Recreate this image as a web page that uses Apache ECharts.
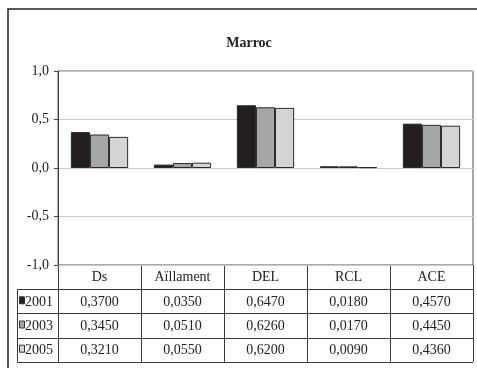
<!doctype html>
<html lang="ca">
    <head>
        <meta charset="UTF-8" />
        <title>Marroc</title>
        <script src="https://cdn.jsdelivr.net/npm/echarts@6.0.0/dist/echarts.min.js"></script>
        <style>
            body { margin: 0; background: #fff; }
        </style>
    </head>
    <body>
        <div id="main" style="width: 477px; height: 368px"></div>

        <script>
            // Data
            const categories = ["Ds", "Aïllament", "DEL", "RCL", "ACE"];
            const years = ["2001", "2003", "2005"];
            const values2001 = [0.37, 0.035, 0.647, 0.018, 0.457];
            const values2003 = [0.345, 0.051, 0.626, 0.017, 0.445];
            const values2005 = [0.321, 0.055, 0.62, 0.009, 0.436];
            const yTicks = [-1, -0.5, 0, 0.5, 1];

            const seriesValues = [values2001, values2003, values2005];
            const colors = ["#231f20", "#a6a6a8", "#d4d4d6"];
            const font = "'Liberation Serif', 'DejaVu Serif', serif";

            // Layout of plot + data table
            const gridLeft = 58;
            const gridRight = 473;
            const gridTop = 71;
            const tableTop = 265;
            const tableLeft = 17;
            const rowH = 24.2;
            const W = 477, H = 368;
            const cellW = (gridRight - gridLeft) / categories.length;
            const lineColor = "#3a3a3a";

            const fmt = (v) => v.toFixed(4).replace(".", ",");

            const graphics = [];
            // outer frame (cut off at right/bottom)
            graphics.push({
                type: "rect",
                shape: { x: 8, y: 9, width: 480, height: 380 },
                style: { fill: "none", stroke: "#222", lineWidth: 1.5 },
                silent: true,
            });
            const line = (x1, y1, x2, y2) =>
                graphics.push({
                    type: "line",
                    shape: { x1, y1, x2, y2 },
                    style: { stroke: lineColor, lineWidth: 1 },
                    silent: true,
                });
            const tableBottom = tableTop + rowH * 4;
            // horizontal table lines
            for (let r = 1; r <= 4; r++) {
                const y = Math.round(tableTop + rowH * r) + 0.5;
                line(tableLeft, y, gridRight, y);
            }
            // vertical table lines
            for (let c = 0; c <= categories.length; c++) {
                const x = Math.round(gridLeft + cellW * c) + 0.5;
                line(x, tableTop, x, tableBottom);
            }
            line(tableLeft + 0.5, tableTop + rowH, tableLeft + 0.5, tableBottom);

            // row labels with legend keys, and cell values
            years.forEach((yr, r) => {
                const cy = tableTop + rowH * (r + 1.5);
                graphics.push({
                    type: "rect",
                    shape: { x: 19.5, y: cy - 4.5, width: 5, height: 7 },
                    style: { fill: colors[r], stroke: "#333", lineWidth: 1 },
                    silent: true,
                });
                graphics.push({
                    type: "text",
                    x: 25,
                    y: cy + 1,
                    style: {
                        text: yr,
                        font: "14px " + font,
                        fill: "#222",
                        textVerticalAlign: "middle",
                    },
                    silent: true,
                });
                seriesValues[r].forEach((v, c) => {
                    graphics.push({
                        type: "text",
                        x: gridLeft + cellW * (c + 0.5),
                        y: cy + 1,
                        style: {
                            text: fmt(v),
                            font: "14px " + font,
                            fill: "#222",
                            textAlign: "center",
                            textVerticalAlign: "middle",
                        },
                        silent: true,
                    });
                });
            });

            const myChart = echarts.init(document.getElementById("main"));

            const options = {
                animation: false,
                title: {
                    text: "Marroc",
                    left: 244,
                    textAlign: "center",
                    top: 31,
                    textStyle: {
                        fontFamily: font,
                        fontSize: 14,
                        fontWeight: "bold",
                        color: "#222",
                    },
                },
                grid: {
                    left: gridLeft,
                    right: W - gridRight,
                    top: gridTop,
                    bottom: H - tableTop,
                    show: true,
                    borderColor: "#555",
                    borderWidth: 1,
                },
                xAxis: {
                    type: "category",
                    data: categories,
                    axisLine: { show: false },
                    axisTick: { show: false },
                    axisLabel: {
                        margin: 5,
                        fontFamily: font,
                        fontSize: 14,
                        color: "#222",
                        interval: 0,
                    },
                },
                yAxis: {
                    type: "value",
                    min: yTicks[0],
                    max: yTicks[yTicks.length - 1],
                    interval: 0.5,
                    axisLine: { show: true, lineStyle: { color: "#444" } },
                    axisTick: { show: true, length: 4, lineStyle: { color: "#444" } },
                    axisLabel: {
                        margin: 9,
                        fontFamily: font,
                        fontSize: 14,
                        color: "#222",
                        formatter: (v) => v.toFixed(1).replace(".", ","),
                    },
                    splitLine: { lineStyle: { color: "#cacaca" } },
                },
                series: years.map((yr, i) => ({
                    name: yr,
                    type: "bar",
                    data: seriesValues[i],
                    barGap: "0%",
                    barCategoryGap: "31%",
                    itemStyle: {
                        color: colors[i],
                        borderColor: "#2a2a2a",
                        borderWidth: 1,
                    },
                })),
                graphic: graphics,
            };

            myChart.setOption(options);
        </script>
    </body>
</html>
